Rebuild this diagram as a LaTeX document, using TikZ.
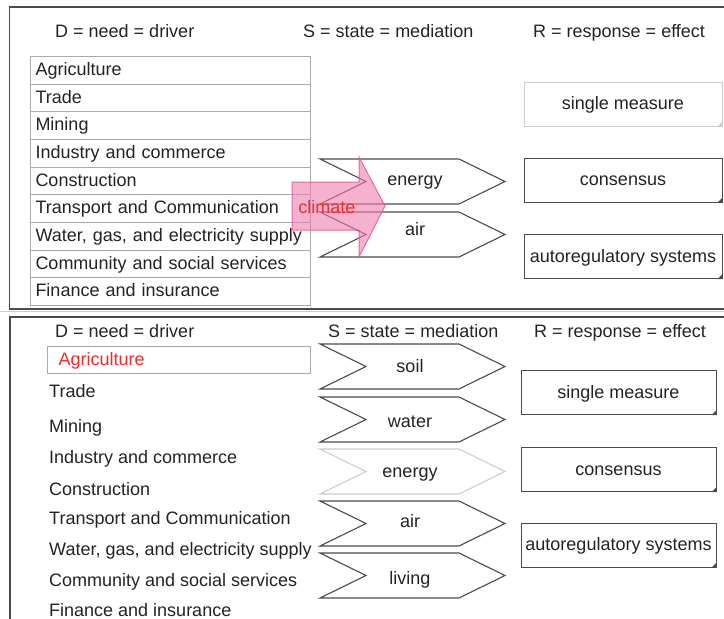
\documentclass[tikz,border=0pt]{standalone}
\usepackage{fontspec}
\setmainfont{Liberation Sans}
\usepackage{tikz}
\usetikzlibrary{positioning}
\definecolor{inkgray}{RGB}{35,35,35}
\definecolor{rowgray}{RGB}{170,170,170}
\definecolor{linegray}{RGB}{75,75,75}
\definecolor{palegray}{RGB}{205,205,205}
\definecolor{climatepink}{RGB}{240,125,175}
\definecolor{climateedge}{RGB}{225,80,150}
\definecolor{labelred}{RGB}{235,45,45}
% chevron of the state column: #1 top edge, #2 colour
\newcommand{\statechevron}[2]{%
  \draw[#2, line width=1.1pt] (320,#1) -- (459,#1) -- (505,#1+22.5) -- (459,#1+45) -- (320,#1+45) -- (366,#1+22.5) -- cycle;}

\begin{document}
\begin{tikzpicture}[x=1pt, y=-1pt,
    every node/.style={font=\fontsize{18}{21}\selectfont, text=inkgray},
    head/.style={anchor=base west, inner sep=0pt},
    item/.style={anchor=base west, inner sep=0pt},
    drow/.style={draw=rowgray, line width=1pt, anchor=north west, minimum height=27.67pt,
      text width=270pt, inner xsep=5pt, inner ysep=0pt, align=left, text height=13pt, text depth=2.7pt},
    stlab/.style={anchor=base, inner sep=0pt},
    resp/.style={draw=linegray, line width=1pt, minimum height=44pt, inner sep=0pt,
      text height=13pt, text depth=2pt},
    frame/.style={draw=linegray, line width=1.5pt}]
  \clip (0,0) rectangle (724,619);

  % ---------- upper panel ----------
  \draw[frame] (740,7) -- (9.5,7) -- (9.5,309) -- (740,309);
  \node[head] (hd1) at (55,37) {D = need = driver};
  \node[head] (hs1) at (303,37) {S = state = mediation};
  \node[head] (hr1) at (533,37) {R = response = effect};

  % drivers as a table
  \foreach \lab [count=\i] in {Agriculture, Trade, Mining, Industry and commerce, Construction,
      Transport and Communication, {Water, gas, and electricity supply},
      Community and social services, Finance and insurance}
    \node[drow] (d\i) at (30,{56+(\i-1)*27.67}) {\lab};

  % state
  \statechevron{159}{linegray}
  \statechevron{212}{linegray}
  \node[stlab] (s-energy) at (415,185) {energy};
  \node[stlab] (s-air) at (415,235) {air};

  % climate arrow
  \fill[climatepink, fill opacity=0.6, draw=climateedge, draw opacity=0.8, line width=1pt]
    (292,182) -- (359,182) -- (359,157) -- (385,206) -- (359,257) -- (359,230) -- (292,230) -- cycle;
  \node[stlab, text=labelred] (climate) at (327,213) {climate};

  % responses
  \node[resp, draw=palegray, minimum width=198pt] (r1) at (623,104) {single measure};
  \node[resp, minimum width=198pt] (r2) at (623,180) {consensus};
  \node[resp, minimum width=198pt] (r3) at (623,256.5) {autoregulatory systems};
  \fill[palegray] (r1.south east) -- ++(-5,0) -- ++(5,-5) -- cycle;
  \foreach \n in {r2,r3}
    \fill[linegray] (\n.south east) -- ++(-5,0) -- ++(5,-5) -- cycle;

  \draw[palegray, line width=1.5pt] (0,311.5) -- (724,311.5);

  % ---------- lower panel ----------
  \draw[frame] (740,317) -- (10,317) -- (10,630);
  \node[head] (hd2) at (55,337) {D = need = driver};
  \node[head] (hs2) at (328,337) {S = state = mediation};
  \node[head] (hr2) at (534,337) {R = response = effect};

  % drivers, the first one picked out
  \node[draw=rowgray, line width=1pt, anchor=north west, minimum height=27pt, text width=241pt,
    inner xsep=11pt, inner ysep=0pt, align=left, text height=13pt, text depth=2pt,
    text=labelred] (e1) at (47,346) {Agriculture};
  \node[item] (e2) at (49,397) {Trade};
  \node[item] (e3) at (49,432) {Mining};
  \node[item] (e4) at (49,463) {Industry and commerce};
  \node[item] (e5) at (49,495) {Construction};
  \node[item] (e6) at (49,524) {Transport and Communication};
  \node[item] (e7) at (49,555) {Water, gas, and electricity supply};
  \node[item] (e8) at (49,586) {Community and social services};
  \node[item] (e9) at (49,616) {Finance and insurance};

  % state
  \statechevron{344}{linegray}
  \statechevron{397}{linegray}
  \statechevron{449}{palegray}
  \statechevron{501}{linegray}
  \statechevron{553}{linegray}
  \node[stlab] (t-soil) at (410,372) {soil};
  \node[stlab] (t-water) at (410,427) {water};
  \node[stlab] (t-energy) at (410,477) {energy};
  \node[stlab] (t-air) at (410,527) {air};
  \node[stlab] (t-living) at (410,584) {living};

  % responses
  \node[resp, minimum width=195pt] (q1) at (618.5,392.5) {single measure};
  \node[resp, minimum width=195pt] (q2) at (618.5,469.5) {consensus};
  \node[resp, minimum width=195pt] (q3) at (618.5,545) {autoregulatory systems};
  \foreach \n in {q1,q2,q3}
    \fill[linegray] (\n.south east) -- ++(-5,0) -- ++(5,-5) -- cycle;
\end{tikzpicture}
\end{document}
